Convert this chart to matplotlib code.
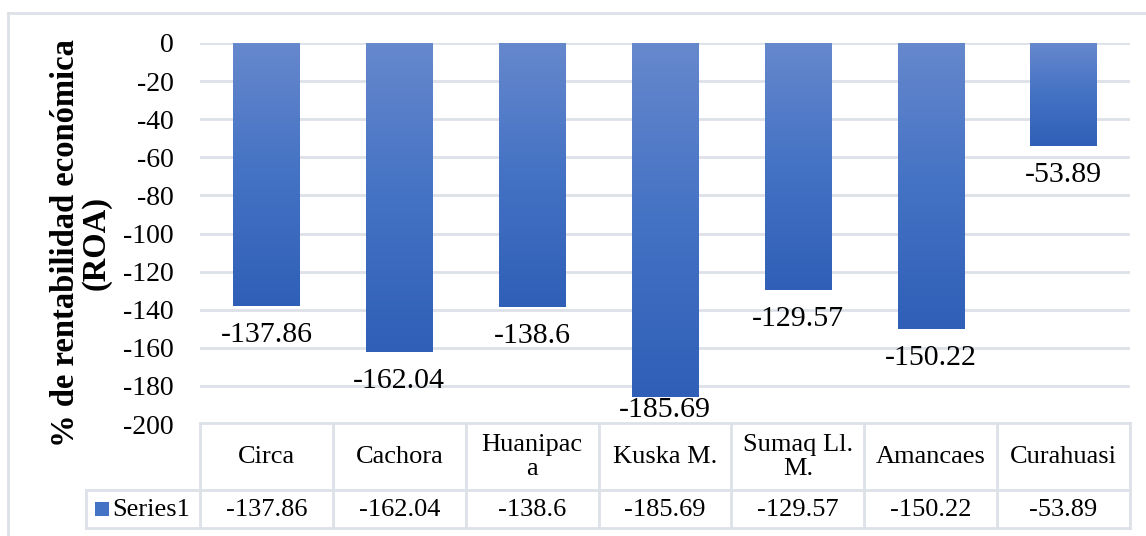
import numpy as np
import matplotlib
matplotlib.use("Agg")
import matplotlib.pyplot as plt
from matplotlib.colors import LinearSegmentedColormap
from matplotlib.patches import Rectangle
from matplotlib.lines import Line2D
from matplotlib import transforms

plt.rcParams['font.family'] = ['Liberation Serif', 'DejaVu Serif']
plt.rcParams['axes.unicode_minus'] = False

# data
categorias = ["Circa", "Cachora", "Huanipac\na", "Kuska M.", "Sumaq Ll.\nM.", "Amancaes", "Curahuasi"]
valores = [-137.86, -162.04, -138.6, -185.69, -129.57, -150.22, -53.89]
serie = "Series1"
yticks = list(range(-200, 1, 20))

W, H = 1146, 536
fig = plt.figure(figsize=(W / 100, H / 100), dpi=100)

def fx(px):
    return px / W

def fy(py):
    return 1 - py / H

gris = '#dde1e8'
ax = fig.add_axes([fx(200), fy(424), fx(1130) - fx(200), fy(43) - fy(424)])

cmap = LinearSegmentedColormap.from_list("azul", ["#6688cd", "#4472c4", "#2f5fb7"])
grad = np.linspace(0, 1, 256).reshape(-1, 1)
ancho = 0.5
for i, v in enumerate(valores):
    ax.imshow(grad, cmap=cmap, aspect='auto', origin='upper',
              extent=(i - ancho / 2, i + ancho / 2, v, 0), zorder=2)
    ax.text(i, max(v - 15.3, -192.5), f"{v:g}", ha='center', va='center',
            fontsize=21.5, clip_on=False, zorder=3)

ax.set_xlim(-0.5, len(valores) - 0.5)
ax.set_ylim(-200, 0)
ax.set_yticks(yticks)
ax.set_yticklabels([str(t) for t in yticks], fontsize=20)
ax.set_xticks([])
ax.tick_params(axis='y', length=0, pad=19)
for s in ax.spines.values():
    s.set_visible(False)
for t in yticks:
    ax.axhline(t, color=gris, lw=2, zorder=1)

fig.text(fx(81), fy(243), "% de rentabilidad económica\n(ROA)", rotation=90,
         ha='center', va='center', fontsize=23.5, fontweight='bold', linespacing=0.95)

# tabla de datos
tr = transforms.blended_transform_factory(ax.transData, fig.transFigure)
y_top, y_mid, y_bot = fy(423), fy(490), fy(528)
n = len(categorias)
for i in range(n + 1):
    fig.add_artist(Line2D([i - 0.5, i - 0.5], [y_top, y_bot], color=gris, lw=2, transform=tr))
fig.add_artist(Line2D([-0.5, n - 0.5], [y_top, y_top], color=gris, lw=2, transform=tr))
fig.add_artist(Line2D([fx(86), fx(1130)], [y_mid, y_mid], color=gris, lw=2, transform=fig.transFigure))
fig.add_artist(Line2D([fx(86), fx(1130)], [y_bot, y_bot], color=gris, lw=2, transform=fig.transFigure))
fig.add_artist(Line2D([fx(86), fx(86)], [y_mid, y_bot], color=gris, lw=2, transform=fig.transFigure))

for i, (c, v) in enumerate(zip(categorias, valores)):
    fig.text(i, fy(457), c, transform=tr, ha='center', va='center', fontsize=19,
             linespacing=1.1)
    fig.text(i, fy(510), f"{v:g}", transform=tr, ha='center', va='center', fontsize=19)

fig.add_artist(Rectangle((fx(95), fy(516)), fx(14), fy(502) - fy(516),
                         facecolor='#4472c4', edgecolor='none', transform=fig.transFigure))
fig.text(fx(112), fy(510), serie, ha='left', va='center', fontsize=19)

# borde del grafico
fig.add_artist(Line2D([fx(8), 1], [fy(13), fy(13)], color=gris, lw=2, transform=fig.transFigure))
fig.add_artist(Line2D([fx(8), fx(8)], [fy(13), 0], color=gris, lw=2, transform=fig.transFigure))

fig.savefig("out.png", dpi=100)
